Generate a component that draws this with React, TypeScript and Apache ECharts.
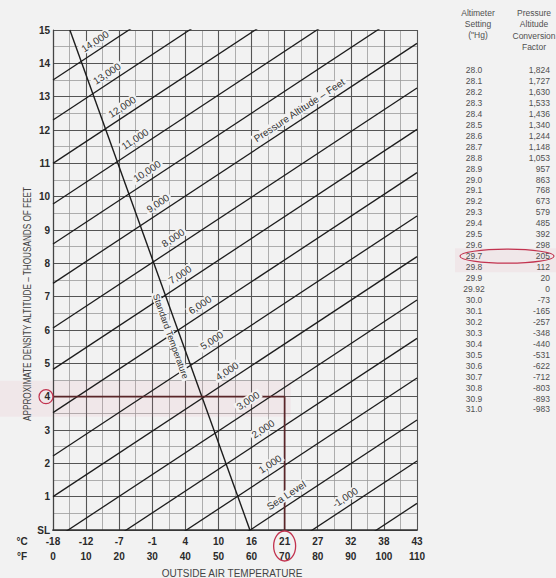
import React, { useEffect, useRef } from 'react';
import * as echarts from 'echarts';

// ---- Axis tick labels ----
const fahrenheitTicks = [0, 10, 20, 30, 40, 50, 60, 70, 80, 90, 100, 110];
const celsiusLabels = ['-18', '-12', '-7', '-1', '4', '10', '16', '21', '27', '32', '38', '43'];
const altitudeLabels = ['SL', '1', '2', '3', '4', '5', '6', '7', '8', '9', '10', '11', '12', '13', '14', '15'];

// ---- Pressure altitude lines (density altitude, thousands of ft, at 0 °F and 110 °F) ----
const pressureAltitudes = [-2000, -1000, 0, 1000, 2000, 3000, 4000, 5000, 6000, 7000, 8000, 9000, 10000, 11000, 12000, 13000, 14000];
const densityAt0F = [-6.4, -5.13, -3.9, -2.64, -1.45, -0.3, 1.0, 2.22, 3.52, 4.82, 6.06, 7.4, 8.58, 9.78, 11.0, 12.3, 13.5];
const densityAt110F = [0.8, 2.07, 3.3, 4.56, 5.75, 6.9, 8.2, 9.42, 10.72, 12.02, 13.26, 14.6, 15.78, 16.98, 18.2, 19.5, 20.7];
const lineLabels = ['', '-1,000', 'Sea Level', '1,000', '2,000', '3,000', '4,000', '5,000', '6,000', '7,000', '8,000', '9,000', '10,000', '11,000', '12,000', '13,000', '14,000'];
const lineLabelF = [0, 89.8, 72, 67.1, 65, 60.4, 54.1, 49.5, 45.9, 39.9, 37.8, 33.2, 29.9, 26.3, 22.4, 17.8, 14.2];
const axisTitleLineIndex = 11; // "Pressure Altitude – Feet" sits on the 9,000 line
const axisTitleLineF = 75.9;

// ---- Standard temperature line (°F, thousands ft) ----
const standardTempF = [5.1, 59.5];
const standardTempAlt = [15, 0];
const standardLabelAlt = 5.9;

// ---- Worked example ----
const exampleTempF = 70;
const exampleAlt = 4;

// ---- Grid steps ----
const majorStepF = 10;
const minorStepF = 5;
const majorStepAlt = 1;
const minorStepAlt = 0.5;

// ---- Conversion table ----
const altimeterSettings = ['28.0', '28.1', '28.2', '28.3', '28.4', '28.5', '28.6', '28.7', '28.8', '28.9', '29.0', '29.1', '29.2', '29.3', '29.4', '29.5', '29.6', '29.7', '29.8', '29.9', '29.92', '30.0', '30.1', '30.2', '30.3', '30.4', '30.5', '30.6', '30.7', '30.8', '30.9', '31.0'];
const conversionFactors = ['1,824', '1,727', '1,630', '1,533', '1,436', '1,340', '1,244', '1,148', '1,053', '957', '863', '768', '673', '579', '485', '392', '298', '205', '112', '20', '0', '-73', '-165', '-257', '-348', '-440', '-531', '-622', '-712', '-803', '-893', '-983'];
const highlightedSetting = '29.7';

export default function App() {
  const ref = useRef<HTMLDivElement>(null);

  useEffect(() => {
    const chart = echarts.init(ref.current!, null, { renderer: 'svg' });
    const fam = 'Arial, "Liberation Sans", Helvetica, sans-serif';
    const ink = '#2a2a2a';
    const red = '#c2334f';

    const series: any[] = pressureAltitudes.map((pa, i) => ({
      type: 'line',
      name: 'PA ' + pa,
      data: [[0, densityAt0F[i]], [110, densityAt110F[i]]],
      symbol: 'none',
      silent: true,
      clip: true,
      z: 3,
      lineStyle: { color: '#1c1c1c', width: 1.3 },
    }));
    series.push({
      type: 'line',
      name: 'Standard Temperature',
      data: standardTempF.map((f, i) => [f, standardTempAlt[i]]),
      symbol: 'none',
      silent: true,
      clip: true,
      z: 3,
      lineStyle: { color: '#1c1c1c', width: 1.4 },
    });
    series.push({
      type: 'line',
      name: 'Example',
      data: [[0, exampleAlt], [exampleTempF, exampleAlt], [exampleTempF, 0]],
      symbol: 'none',
      silent: true,
      clip: true,
      z: 4,
      lineStyle: { color: '#5a2629', width: 1.7 },
    });

    const minorSplit = { show: true, lineStyle: { color: '#9a9a9a', width: 0.8 } };
    const majorSplit = { show: true, lineStyle: { color: '#555', width: 1.1 } };
    const hiddenParts = { axisLine: { show: false }, axisTick: { show: false }, axisLabel: { show: false } };

    chart.setOption({
      animation: false,
      backgroundColor: '#f2f2f2',
      grid: { left: 53, top: 30, width: 364, height: 500 },
      xAxis: [
        {
          type: 'value', min: 0, max: 110, interval: majorStepF, z: 1,
          axisLine: { show: true, lineStyle: { color: '#444', width: 1.2 } },
          axisTick: { show: false },
          axisLabel: {
            margin: 6, fontSize: 10, fontWeight: 'bold', color: ink, fontFamily: fam,
            formatter: (v: number) => celsiusLabels[fahrenheitTicks.indexOf(v)] ?? '',
          },
          splitLine: majorSplit,
        },
        {
          type: 'value', min: 0, max: 110, interval: majorStepF, position: 'bottom', offset: 17, z: 1,
          axisLine: { show: true, lineStyle: { color: '#333', width: 1.6 } },
          axisTick: { show: false },
          axisLabel: { margin: 4, fontSize: 10, fontWeight: 'bold', color: ink, fontFamily: fam },
          splitLine: { show: false },
        },
        {
          type: 'value', min: 0, max: 110, interval: minorStepF, position: 'top', z: 0,
          ...hiddenParts,
          splitLine: minorSplit,
        },
      ],
      yAxis: [
        {
          type: 'value', min: 0, max: 15, interval: majorStepAlt, z: 1,
          axisLine: { show: true, lineStyle: { color: '#444', width: 1.2 } },
          axisTick: { show: false },
          axisLabel: {
            margin: 3, fontSize: 10, fontWeight: 'bold', color: ink, fontFamily: fam,
            formatter: (v: number) => altitudeLabels[v] ?? '',
          },
          splitLine: majorSplit,
        },
        {
          type: 'value', min: 0, max: 15, interval: minorStepAlt, position: 'right', z: 0,
          ...hiddenParts,
          splitLine: minorSplit,
        },
      ],
      series,
    });

    const px = (f: number, a: number) => chart.convertToPixel({ seriesIndex: 0 }, [f, a]) as number[];
    const elements: any[] = [];

    // pink highlight wash
    const p4 = px(exampleTempF, exampleAlt);
    elements.push({
      type: 'rect', z: 1, silent: true,
      shape: { x: 0, y: p4[1] - 16, width: p4[0] + 6, height: 36 },
      style: { fill: 'rgba(225,140,160,0.10)' },
    });

    const labelOnLine = (text: string, a: number[], b: number[], f: number, alt: number, offset: number, size: number) => {
      const ang = Math.atan2(-(b[1] - a[1]), b[0] - a[0]);
      const p = px(f, alt);
      const nx = -Math.sin(ang), ny = -Math.cos(ang);
      elements.push({
        type: 'text', z: 50, silent: true,
        x: p[0] + nx * offset, y: p[1] + ny * offset, rotation: ang,
        style: {
          text, font: `${size}px ${fam}`, fill: '#333', align: 'center', verticalAlign: 'middle',
          backgroundColor: '#f2f2f2', padding: [0, 2],
        },
      });
    };

    pressureAltitudes.forEach((_, i) => {
      if (!lineLabels[i]) return;
      const a = px(0, densityAt0F[i]);
      const b = px(110, densityAt110F[i]);
      const f = lineLabelF[i];
      const alt = densityAt0F[i] + (densityAt110F[i] - densityAt0F[i]) * f / 110;
      labelOnLine(lineLabels[i], a, b, f, alt, 9, 10);
    });
    {
      const i = axisTitleLineIndex;
      const a = px(0, densityAt0F[i]);
      const b = px(110, densityAt110F[i]);
      const alt = densityAt0F[i] + (densityAt110F[i] - densityAt0F[i]) * axisTitleLineF / 110;
      labelOnLine('Pressure Altitude – Feet', a, b, axisTitleLineF, alt, 9, 10);
    }
    {
      const a = px(standardTempF[0], standardTempAlt[0]);
      const b = px(standardTempF[1], standardTempAlt[1]);
      const t = (standardTempAlt[0] - standardLabelAlt) / (standardTempAlt[0] - standardTempAlt[1]);
      const f = standardTempF[0] + t * (standardTempF[1] - standardTempF[0]);
      labelOnLine('Standard Temperature', a, b, f, standardLabelAlt, -9, 9);
    }

    // unit labels and axis titles
    const bottom = px(0, 0);
    const right = px(110, 0);
    elements.push({ type: 'text', z: 50, x: 22, y: bottom[1] + 11, style: { text: '°C', font: `bold 10px ${fam}`, fill: ink, align: 'center', verticalAlign: 'middle' } });
    elements.push({ type: 'text', z: 50, x: 22, y: bottom[1] + 26, style: { text: '°F', font: `bold 10px ${fam}`, fill: ink, align: 'center', verticalAlign: 'middle' } });
    elements.push({ type: 'text', z: 50, x: (bottom[0] + right[0]) / 2 - 3, y: bottom[1] + 43, style: { text: 'OUTSIDE AIR TEMPERATURE', font: `10px ${fam}`, fill: '#444', align: 'center', verticalAlign: 'middle' } });
    elements.push({
      type: 'text', z: 50, x: 27.5, y: 304, rotation: Math.PI / 2, scaleX: 0.78,
      style: { text: 'APPROXIMATE DENSITY ALTITUDE – THOUSANDS OF FEET', font: `10.5px ${fam}`, fill: '#444', align: 'center', verticalAlign: 'middle' },
    });

    // red circles
    const p4y = px(0, exampleAlt);
    elements.push({ type: 'ellipse', z: 60, silent: true, shape: { cx: p4y[0] - 7, cy: p4y[1], rx: 7, ry: 7 }, style: { fill: 'none', stroke: red, lineWidth: 1.2 } });
    const p70 = px(exampleTempF, 0);
    elements.push({ type: 'ellipse', z: 60, silent: true, shape: { cx: p70[0], cy: p70[1] + 16, rx: 11, ry: 15 }, style: { fill: 'none', stroke: red, lineWidth: 1.3 } });

    // conversion table
    const col1 = 474, col2 = 550, rowTop = 70, rowH = 10.95;
    const tfont = `8.5px ${fam}`;
    const tcol = '#505050';
    [['Altimeter', 13], ['Setting', 24], ['("Hg)', 35]].forEach(([t, y]) => {
      elements.push({ type: 'text', z: 50, x: 478, y, style: { text: t, font: tfont, fill: tcol, align: 'center', verticalAlign: 'middle' } });
    });
    [['Pressure', 13], ['Altitude', 24], ['Conversion', 36], ['Factor', 47]].forEach(([t, y]) => {
      elements.push({ type: 'text', z: 50, x: 534, y, style: { text: t, font: tfont, fill: tcol, align: 'center', verticalAlign: 'middle' } });
    });
    const hi = altimeterSettings.indexOf(highlightedSetting);
    elements.push({
      type: 'rect', z: 1, silent: true,
      shape: { x: 455, y: rowTop + hi * rowH - 8, width: 101, height: 24 },
      style: { fill: 'rgba(225,140,160,0.10)' },
    });
    altimeterSettings.forEach((s, i) => {
      const y = rowTop + i * rowH;
      elements.push({ type: 'text', z: 50, x: col1, y, style: { text: s, font: tfont, fill: tcol, align: 'center', verticalAlign: 'middle' } });
      elements.push({ type: 'text', z: 50, x: col2, y, style: { text: conversionFactors[i], font: tfont, fill: tcol, align: 'right', verticalAlign: 'middle' } });
    });
    elements.push({ type: 'ellipse', z: 60, silent: true, shape: { cx: 507, cy: rowTop + hi * rowH, rx: 47, ry: 7 }, style: { fill: 'none', stroke: red, lineWidth: 1.1 } });

    chart.setOption({ graphic: elements });
    return () => chart.dispose();
  }, []);

  return <div ref={ref} style={{ position: 'fixed', left: 0, top: 0, width: 556, height: 578 }} />;
}
